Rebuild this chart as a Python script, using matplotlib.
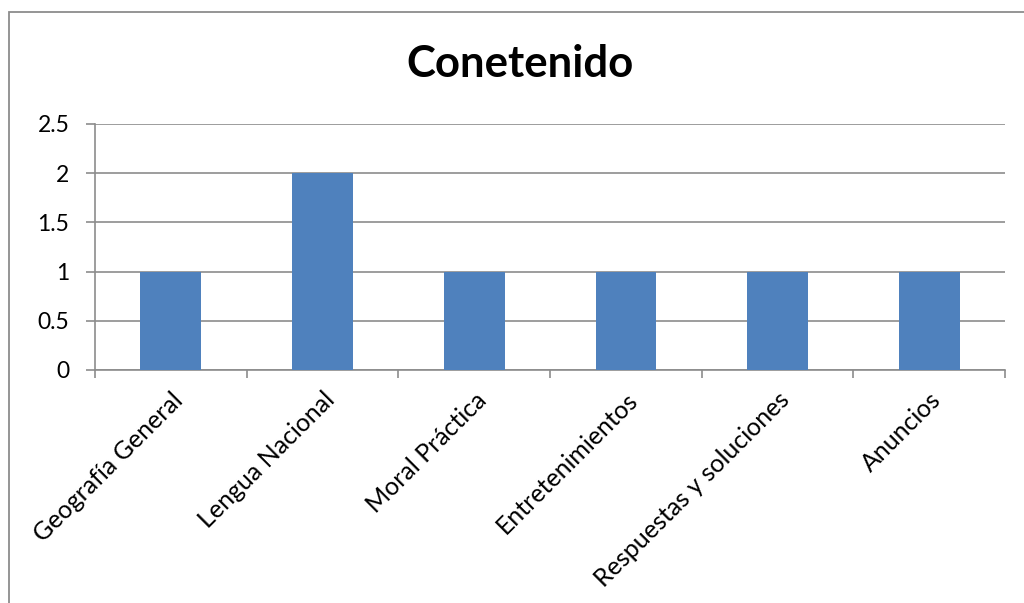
import matplotlib
matplotlib.use('Agg')
from matplotlib import pyplot as plt
from matplotlib.patches import Rectangle

categories = ['Geografía General', 'Lengua Nacional', 'Moral Práctica',
              'Entretenimientos', 'Respuestas y soluciones', 'Anuncios']
values = [1, 2, 1, 1, 1, 1]
y_ticks = [0, 0.5, 1, 1.5, 2, 2.5]
y_tick_labels = ['0', '0.5', '1', '1.5', '2', '2.5']
title = 'Conetenido'

plt.rcParams['font.family'] = ['Lato', 'DejaVu Sans']
grid_color = '#8c8c8c'

fig = plt.figure(figsize=(10.24, 6.03), dpi=100)
ax = fig.add_axes([95 / 1024, 1 - 370 / 603, 910 / 1024, 246 / 603])

# outer chart border (right and bottom edges are cut off in the original)
fig.patches.append(Rectangle((8.5 / 1024, -0.5), 2, 1.5 - 11.5 / 603,
                             transform=fig.transFigure, fill=False,
                             edgecolor='#8c8c8c', linewidth=1.3))

x = list(range(len(categories)))
ax.bar(x, values, width=0.4, color='#4F81BD', zorder=3)

ax.set_xlim(-0.5, len(categories) - 0.5)
ax.set_ylim(0, 2.5)
ax.set_yticks(y_ticks)
ax.set_yticklabels(y_tick_labels, fontsize=16.5)
ax.yaxis.grid(True, color=grid_color, linewidth=1.2, zorder=0)

ax.set_xticks([i - 0.5 for i in range(len(categories) + 1)])
ax.set_xticklabels([])
ax.set_xticks(x, minor=True)
ax.set_xticklabels(categories, minor=True, rotation=45, ha='right',
                   va='top', rotation_mode='anchor', fontsize=18)
ax.tick_params(axis='x', which='minor', length=0, pad=13)
ax.tick_params(axis='x', which='major', length=6, width=1.2, color=grid_color)
ax.tick_params(axis='y', length=6.5, width=1.2, color=grid_color, pad=12)

for side in ['top', 'right']:
    ax.spines[side].set_visible(False)
for side in ['left', 'bottom']:
    ax.spines[side].set_color(grid_color)
    ax.spines[side].set_linewidth(1.2)

fig.text(520 / 1024, 1 - 64 / 603, title, ha='center', va='center',
         fontsize=31.5, fontweight='bold')

plt.savefig('out.png', dpi=100)
plt.close()
